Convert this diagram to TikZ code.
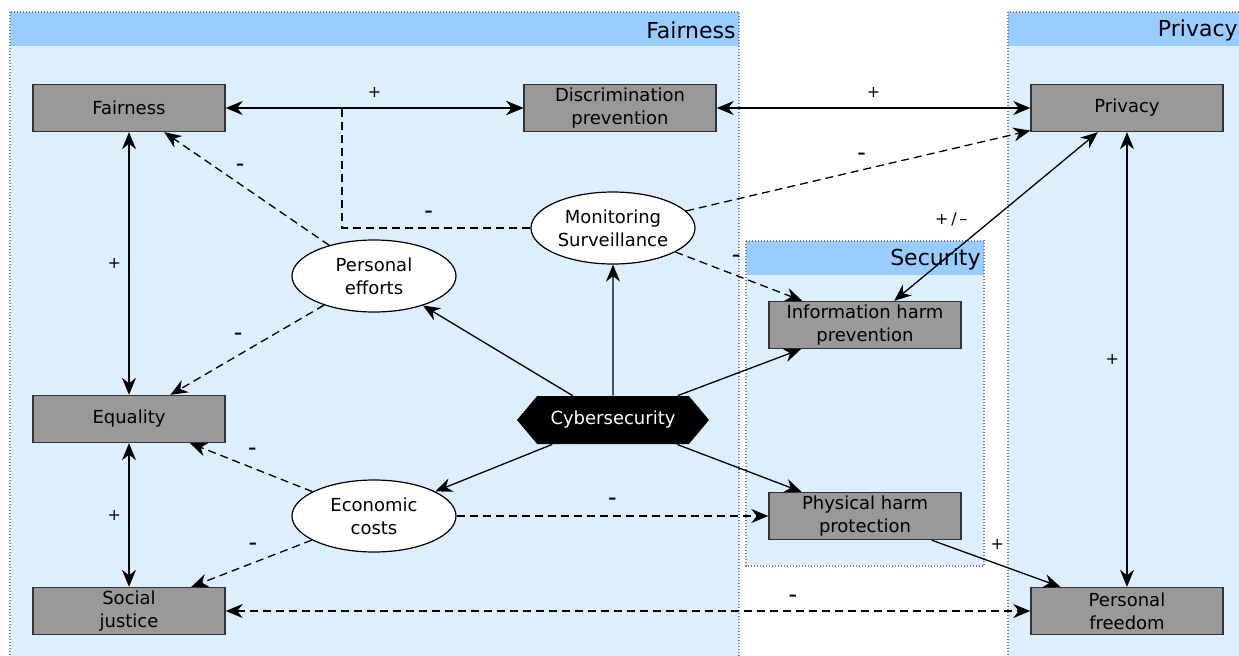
\documentclass[tikz,border=0pt]{standalone}
\usepackage{fontspec}
\setmainfont{DejaVu Sans}
\usepackage{tikz}
\usetikzlibrary{arrows.meta,shapes.geometric,shapes.symbols}
\definecolor{headblue}{HTML}{99CCFF}
\definecolor{areablue}{HTML}{DDEEFF}
\definecolor{borderblue}{HTML}{7777AA}
\definecolor{valuegray}{HTML}{999999}

\begin{document}
\begin{tikzpicture}[x=0.5pt,y=-0.5pt,
  area/.style={fill=areablue},
  head/.style={fill=headblue},
  frame/.style={draw=borderblue,line width=0.7pt,dash pattern=on 0.6pt off 0.9pt},
  title/.style={anchor=east,inner sep=0pt,font=\fontsize{11}{13}\selectfont},
  value/.style={draw=black!80,fill=valuegray,line width=0.7pt,minimum width=96pt,minimum height=23.5pt,align=center,inner sep=1pt,font=\fontsize{9}{11.5}\selectfont},
  factor/.style={ellipse,draw,fill=white,line width=0.6pt,minimum width=82pt,minimum height=36pt,align=center,inner sep=0pt,font=\fontsize{9}{11.5}\selectfont},
  tech/.style={signal,signal to=west and east,signal pointer angle=100,fill=black,text=white,minimum width=96pt,minimum height=24pt,inner sep=1pt,font=\fontsize{9}{11.5}\selectfont},
  rel/.style={line width=0.65pt,-{Stealth[length=8.5pt,width=7pt]}},
  both/.style={line width=0.65pt,{Stealth[length=8.5pt,width=7pt]}-{Stealth[length=8.5pt,width=7pt]}},
  neg/.style={rel,dash pattern=on 4pt off 2.5pt},
  negboth/.style={both,dash pattern=on 4pt off 2.5pt},
  sign/.style={inner sep=0pt,text depth=0pt,font=\fontsize{8}{10}\selectfont}]
  \useasboundingbox (0,0) rectangle (1239,655);
  \clip (0,0) rectangle (1239,655);
  \fill[white] (0,0) rectangle (1239,655);

  \fill[area] (10,12) rectangle (739,670);
  \fill[head] (10,12) rectangle (739,46);
  \draw[frame] (10,12) rectangle (739,670);
  \node[title] (tfair) at (736,30) {Fairness};

  \fill[area] (1008,12) rectangle (1250,670);
  \fill[head] (1008,12) rectangle (1250,46);
  \draw[frame] (1008,12) rectangle (1250,670);
  \node[title] (tpriv) at (1238,30) {Privacy};

  \fill[area] (746,241) rectangle (984,566);
  \fill[head] (746,241) rectangle (984,275);
  \draw[frame] (746,241) rectangle (984,566);
  \node[title] (tsec) at (981,259) {Security};

  \node[value] (fair) at (129,108) {Fairness};
  \node[value] (disc) at (620,108) {Discrimination\\prevention};
  \node[value] (priv) at (1127,108) {Privacy};
  \node[value] (eq) at (129,419) {Equality};
  \node[value] (soc) at (129,611) {Social\\justice};
  \node[value] (free) at (1127,611) {Personal\\freedom};
  \node[value] (info) at (865,325) {Information harm\\prevention};
  \node[value] (phys) at (865,516) {Physical harm\\protection};
  \node[factor] (mon) at (613,228) {Monitoring\\Surveillance};
  \node[factor] (pe) at (374,276) {Personal\\efforts};
  \node[factor] (ec) at (374,516) {Economic\\costs};
  \node[tech] (cyber) at (613,420) {Cybersecurity};
  \coordinate (join) at (342,108);

  \draw[both] (fair) -- node[sign,above=5pt] {+} (disc);
  \draw[both] (disc) -- node[sign,above=5pt] {+} (priv);
  \draw[neg] (mon.west) -| node[sign,pos=0.27,above=5.5pt] {\textbf{–}} (join) -- (disc);
  \draw[neg] (mon) -- node[sign,pos=0.51,above=5.5pt] {\textbf{–}} (priv);
  \draw[neg] (mon) -- node[sign,pos=0.48,above=7pt] {\textbf{–}} (info);
  \draw[both] (priv) -- node[sign,pos=0.51,left=13pt] {+\,/\,–} (info);
  \draw[both] (priv) -- node[sign,left=3.6pt] {+} (free);
  \draw[both] (fair) -- node[sign,left=3.6pt] {+} (eq);
  \draw[both] (eq) -- node[sign,left=3.6pt] {+} (soc);
  \draw[neg] (pe) -- node[sign,pos=0.54,above=7pt] {\textbf{–}} (fair);
  \draw[neg] (pe) -- node[sign,pos=0.56,above=8pt] {\textbf{–}} (eq);
  \draw[neg] (ec) -- node[sign,pos=0.49,above=7pt] {\textbf{–}} (eq);
  \draw[neg] (ec) -- node[sign,pos=0.49,above=7pt] {\textbf{–}} (soc);
  \draw[neg] (ec) -- node[sign,above=6pt] {\textbf{–}} (phys);
  \draw[rel] (cyber) -- (pe);
  \draw[rel] (cyber) -- (mon);
  \draw[rel] (cyber) -- (info);
  \draw[rel] (cyber) -- (ec);
  \draw[rel] (cyber) -- (phys);
  \draw[rel] (phys) -- node[sign,pos=0.51,above=7pt] {+} (free);
  \draw[negboth] (soc) -- node[sign,pos=0.705,above=5pt] {\textbf{–}} (free);
\end{tikzpicture}
\end{document}
